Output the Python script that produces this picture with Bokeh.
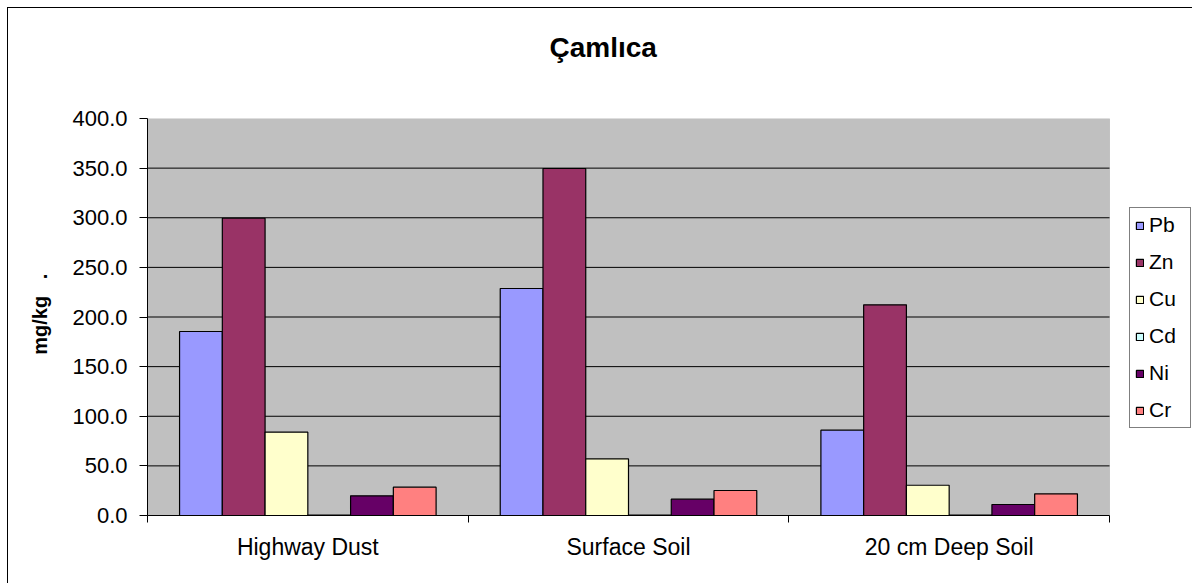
from bokeh.plotting import figure
from bokeh.models import ColumnDataSource, FixedTicker, NumeralTickFormatter, Legend, LegendItem, BoxAnnotation
from bokeh.transform import dodge
from bokeh.embed import file_html
from bokeh.resources import INLINE

chart_title = "Çamlıca"
y_title = "\u00a0mg/kg\u00a0\u00a0\u00a0."
categories = ["Highway Dust", "Surface Soil", "20 cm Deep Soil"]
metals = ["Pb", "Zn", "Cu", "Cd", "Ni", "Cr"]
pb = [185.4, 228.7, 86.0]
zn = [299.5, 349.6, 212.3]
cu = [84.0, 57.1, 30.5]
cd = [0.4, 0.5, 0.3]
ni = [19.8, 16.4, 11.1]
cr = [28.5, 25.2, 21.8]
colors = ["#9999FF", "#993366", "#FFFFCC", "#CCFFFF", "#660066", "#FF8080"]
y_ticks = [0, 50, 100, 150, 200, 250, 300, 350, 400]
grid_ticks = [50, 100, 150, 200, 250, 300, 350]
y_max = 400

FONT = "Liberation Sans"

# layout (pixels)
PLOT_W = 962          # width of the grey plot area
EXTRA_W = 83          # white room to its right, holding the legend
ncat = len(categories)

xc = [i + 0.5 for i in range(ncat)]
data = dict(x=xc, Pb=pb, Zn=zn, Cu=cu, Cd=cd, Ni=ni, Cr=cr)
source = ColumnDataSource(data)

p = figure(frame_width=PLOT_W + EXTRA_W, frame_height=397, output_backend="svg", toolbar_location=None,
           x_range=(0, ncat * (PLOT_W + EXTRA_W) / PLOT_W), y_range=(0, y_max),
           min_border_left=139, min_border_right=0, min_border_top=110, min_border_bottom=68)
p.styles = {"margin-left": "7px", "margin-top": "7px",
            "border-left": "1px solid #000000", "border-top": "1px solid #000000"}
p.background_fill_color = "white"
p.border_fill_color = "white"
p.outline_line_color = None

# grey plot area
plot_area = BoxAnnotation(left=0, right=ncat, bottom=0, top=y_max, fill_color="#C0C0C0", fill_alpha=1,
                          line_color="#808080", line_width=1, level="underlay")
p.add_layout(plot_area)

# horizontal gridlines within plot area
p.segment(x0=[0] * len(grid_ticks), x1=[ncat] * len(grid_ticks), y0=grid_ticks, y1=grid_ticks,
          line_color="black", line_width=1)

n = len(metals)
bar_w = 1.0 / (n + 1.5)
renderers = []
for k, (m, c) in enumerate(zip(metals, colors)):
    off = (k - (n - 1) / 2) * bar_w
    r = p.vbar(x=dodge("x", off, range=p.x_range), top=m, width=bar_w, source=source,
               fill_color=c, line_color="black", line_width=1.2)
    renderers.append(r)

# title
p.title.text = chart_title
p.title.align = "left"
p.title.offset = 402
p.title.standoff = 32
p.title.padding = dict(left=0, right=0, top=0, bottom=40)
p.title.text_font = FONT
p.title.text_font_size = "28px"
p.title.text_font_style = "bold"
p.title.text_color = "black"

# axes
p.xgrid.visible = False
p.ygrid.visible = False
p.yaxis.ticker = FixedTicker(ticks=y_ticks)
p.yaxis.formatter = NumeralTickFormatter(format="0.0")
p.yaxis.minor_tick_line_color = None
p.yaxis.major_tick_out = 8
p.yaxis.major_tick_in = 0
p.yaxis.major_tick_line_color = "black"
p.yaxis.axis_line_color = "black"
p.yaxis.major_label_text_font = FONT
p.yaxis.major_label_text_font_size = "22px"
p.yaxis.major_label_text_color = "black"
p.yaxis.major_label_standoff = 12
p.yaxis.axis_label = y_title
p.yaxis.axis_label_text_font = FONT
p.yaxis.axis_label_text_font_size = "20px"
p.yaxis.axis_label_text_font_style = "bold"
p.yaxis.axis_label_text_color = "black"
p.yaxis.axis_label_standoff = 18

p.xaxis.bounds = (0, ncat)
p.xaxis.ticker = FixedTicker(ticks=xc, minor_ticks=list(range(ncat + 1)))
p.xaxis.major_label_overrides = {x: c for x, c in zip(xc, categories)}
p.xaxis.major_tick_line_color = None
p.xaxis.major_tick_out = 0
p.xaxis.major_tick_in = 0
p.xaxis.minor_tick_line_color = "black"
p.xaxis.minor_tick_out = 7
p.xaxis.minor_tick_in = 0
p.xaxis.axis_line_color = "black"
p.xaxis.major_label_text_font = FONT
p.xaxis.major_label_text_font_size = "23px"
p.xaxis.major_label_text_color = "black"
p.xaxis.major_label_standoff = 11

legend = Legend(items=[LegendItem(label=m, renderers=[r]) for m, r in zip(metals, renderers)],
                location=(PLOT_W + 20, 87))
legend.label_text_font = FONT
legend.label_text_font_size = "21px"
legend.label_text_color = "black"
legend.glyph_width = 9
legend.glyph_height = 9
legend.label_standoff = 5
legend.label_width = 36
legend.spacing = 13
legend.padding = 5
legend.margin = 0
legend.border_line_color = "black"
legend.border_line_width = 1
legend.background_fill_color = "white"
legend.background_fill_alpha = 1
p.add_layout(legend)

open("out.html", "w").write(file_html(p, INLINE))
